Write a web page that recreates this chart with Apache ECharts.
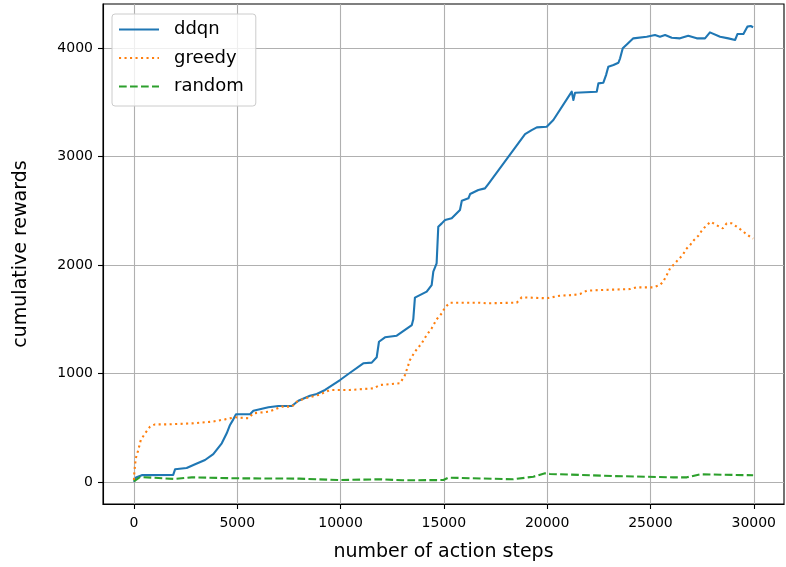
<!DOCTYPE html>
<html>
<head>
<meta charset="utf-8">
<script src="https://cdn.jsdelivr.net/npm/echarts@6/dist/echarts.min.js"></script>
<style>html,body{margin:0;padding:0;background:#fff}#c{width:786px;height:567px}</style>
</head>
<body>
<div id="c"></div>
<script>
var xTicks = [0, 5000, 10000, 15000, 20000, 25000, 30000];
var yTicks = [0, 1000, 2000, 3000, 4000];

var ddqnSteps = [0,100,380,1900,1990,2550,2960,3440,3840,4250,4490,4650,4810,4940,5620,5780,6510,6990,7640,7960,8520,8850,9250,9975,10460,11100,11510,11750,11860,12150,12720,13450,13520,13600,14170,14410,14490,14650,14730,14900,15060,15380,15780,15870,16190,16270,16670,16990,17150,18930,19250,19500,19980,20300,21190,21270,21350,22400,22480,22720,22850,22960,23210,23450,23530,23660,23880,24170,24820,25220,25460,25710,26030,26430,26830,27240,27640,27880,28370,28770,29100,29210,29500,29690,29850,29970];
var ddqnRewards = [0,40,62,64,116,128,162,202,257,356,448,525,577,624,624,657,688,700,700,749,795,811,848,940,1007,1094,1100,1150,1293,1334,1349,1447,1500,1700,1755,1816,1939,2017,2354,2385,2416,2432,2508,2594,2616,2656,2693,2708,2748,3209,3246,3271,3277,3339,3600,3523,3590,3600,3677,3683,3753,3830,3846,3867,3908,4000,4040,4092,4107,4123,4107,4123,4098,4092,4116,4092,4092,4147,4107,4092,4077,4132,4132,4200,4206,4194];

var greedySteps = [0,20,90,210,330,540,780,1020,1670,2800,3770,4410,4890,5540,5780,6510,7150,7640,7880,8280,8930,9490,10460,11590,11910,12880,13120,13360,13600,13930,14170,14410,14650,14900,15060,15300,16750,17080,18530,18770,19980,20620,21270,21590,21920,22560,24010,24340,25140,25460,25620,25790,25950,26190,26350,26560,26720,26920,27110,27320,27480,27690,27920,28180,28500,28690,28930,29250,29530,29820,29970];
var greedyRewards = [18,94,218,294,386,448,509,531,531,540,555,577,596,587,633,647,694,694,740,771,802,848,848,863,894,910,986,1125,1201,1279,1355,1417,1500,1555,1611,1653,1653,1648,1653,1703,1694,1718,1724,1733,1764,1770,1779,1795,1795,1816,1847,1909,1970,2017,2053,2093,2146,2185,2232,2271,2317,2363,2400,2370,2339,2386,2386,2345,2303,2262,2245];

var randomSteps = [0,300,1990,2800,5000,8000,10000,11910,13000,14980,15220,18360,19330,19900,20140,23200,26110,26760,27400,29970];
var randomRewards = [5,45,27,42,33,30,17,24,15,17,39,24,48,79,73,54,42,42,70,61];

function pairs(xs, ys) { return xs.map(function (x, i) { return [x, ys[i]]; }); }
function plain(v) { return String(v); }

var FONT = 'DejaVu Sans';
var chart = echarts.init(document.getElementById('c'), null, {renderer: 'canvas'});
chart.setOption({
  animation: false,
  backgroundColor: '#fff',
  textStyle: {fontFamily: FONT},
  grid: {left: 103, right: 2, top: 4, bottom: 63, show: true, borderColor: '#000', borderWidth: 1.1, backgroundColor: 'transparent'},
  legend: {
    left: 112, top: 14, orient: 'vertical',
    itemWidth: 40, itemHeight: 14, itemGap: 9.5,
    padding: [6, 12, 10, 6],
    itemStyle: {opacity: 0},
    backgroundColor: 'rgba(255,255,255,0.8)', borderColor: '#cccccc', borderWidth: 1, borderRadius: 3,
    textStyle: {fontFamily: FONT, fontSize: 18, lineHeight: 19, color: '#000', padding: [0, 0, 0, 10]},
    data: ['ddqn', 'greedy', 'random']
  },
  xAxis: {
    type: 'value', min: -1498, max: 31464,
    name: 'number of action steps', nameLocation: 'middle', nameGap: 39,
    nameTextStyle: {fontFamily: FONT, fontSize: 19, color: '#000'},
    axisLine: {show: true, onZero: false, lineStyle: {color: '#000', width: 1.1}},
    axisTick: {show: true, length: 5, customValues: xTicks, lineStyle: {color: '#000', width: 1.1}},
    axisLabel: {customValues: xTicks, formatter: plain, margin: 12, fontFamily: FONT, fontSize: 14, color: '#000'},
    splitLine: {show: true, lineStyle: {color: '#b0b0b0', width: 1.1}}
  },
  yAxis: {
    type: 'value', min: -204, max: 4409,
    name: 'cumulative rewards', nameLocation: 'middle', nameGap: 72, nameRotate: 90,
    nameTextStyle: {fontFamily: FONT, fontSize: 19, color: '#000'},
    axisLine: {show: true, onZero: false, lineStyle: {color: '#000', width: 1.1}},
    axisTick: {show: true, length: 5, customValues: yTicks, lineStyle: {color: '#000', width: 1.1}},
    axisLabel: {customValues: yTicks, formatter: plain, margin: 10, fontFamily: FONT, fontSize: 14, color: '#000'},
    splitLine: {show: true, lineStyle: {color: '#b0b0b0', width: 1.1}}
  },
  series: [
    {name: 'ddqn', type: 'line', symbol: 'none', data: pairs(ddqnSteps, ddqnRewards), z: 3,
     itemStyle: {color: '#1f77b4'}, lineStyle: {color: '#1f77b4', width: 2.1, join: 'round'}},
    {name: 'greedy', type: 'line', symbol: 'none', data: pairs(greedySteps, greedyRewards), z: 4,
     itemStyle: {color: '#ff7f0e'}, lineStyle: {color: '#ff7f0e', width: 2.1, type: [2.1, 3.4], cap: 'butt'}},
    {name: 'random', type: 'line', symbol: 'none', data: pairs(randomSteps, randomRewards), z: 5,
     itemStyle: {color: '#2ca02c'}, lineStyle: {color: '#2ca02c', width: 2.1, type: [7.7, 3.3], cap: 'butt'}}
  ]
});
</script>
</body>
</html>
